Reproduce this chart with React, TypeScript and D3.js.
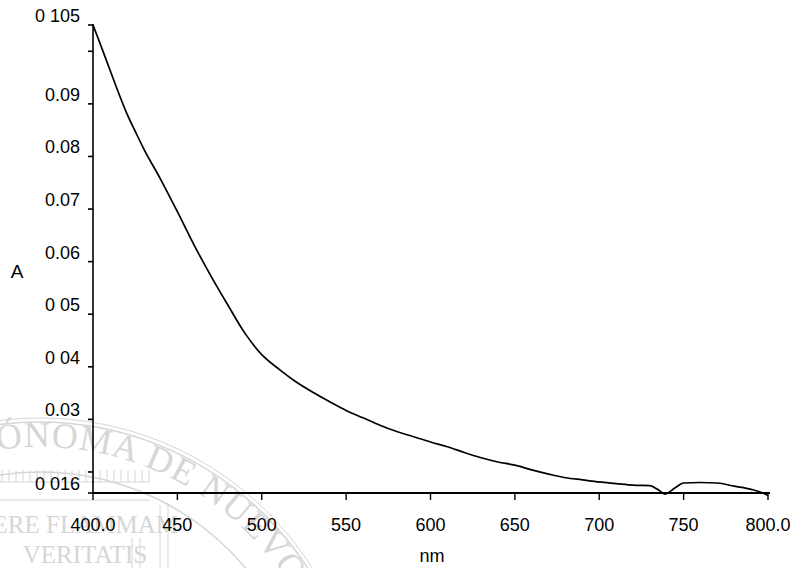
import React from "react";
import * as d3 from "d3";

const wavelengths = [400, 405, 410, 415, 420, 425, 430, 440, 450, 460, 470, 480, 490, 500, 510, 520, 530, 540, 550, 560, 570, 580, 590, 600, 610, 620, 630, 640, 650, 660, 670, 680, 690, 700, 710, 720, 730, 735, 739, 745, 750, 760, 770, 780, 790, 797, 800];
const absorbance = [0.105, 0.1008, 0.0965, 0.0922, 0.0882, 0.0848, 0.0815, 0.0757, 0.0695, 0.0631, 0.0572, 0.0517, 0.0464, 0.0423, 0.0396, 0.0372, 0.0352, 0.0334, 0.0317, 0.0303, 0.0289, 0.0277, 0.0267, 0.0257, 0.0248, 0.0237, 0.0227, 0.0219, 0.0213, 0.0204, 0.0196, 0.0189, 0.0185, 0.0181, 0.0178, 0.0175, 0.0174, 0.0166, 0.0158, 0.017, 0.0179, 0.018, 0.0179, 0.0173, 0.0167, 0.016, 0.0155];

const xTicks = [400, 450, 500, 550, 600, 650, 700, 750, 800];
const xTickLabels = ["400.0", "450", "500", "550", "600", "650", "700", "750", "800.0"];
const yTicks = [0.105, 0.1, 0.09, 0.08, 0.07, 0.06, 0.05, 0.04, 0.03, 0.02, 0.016];
const yTickLabels = ["0 105", "", "0.09", "0.08", "0.07", "0.06", "0 05", "0 04", "0.03", "", "0 016"];
const xTitle = "nm";
const yTitle = "A";

export default function App() {
  const x = d3.scaleLinear().domain([400, 800]).range([93, 768]);
  const y = d3.scaleLinear().domain([0.016, 0.105]).range([493, 25]);
  const pts = wavelengths.map((w, i) => [w, absorbance[i]] as [number, number]);
  const line = d3.line<[number, number]>().x((d) => x(d[0])).y((d) => y(d[1])).curve(d3.curveMonotoneX);

  // watermark geometry (decorative)
  const cx = 40, cy = 740, rText = 293;
  const arcPath = `M ${cx - rText} ${cy} A ${rText} ${rText} 0 0 1 ${cx + rText} ${cy}`;
  const wmColor = "#d6d6d6";
  const hatch = d3.range(2, 150, 7);

  const font = "'Liberation Sans', Arial, sans-serif";
  return (
    <svg width={794} height={568} style={{ position: "absolute", left: 0, top: 0, background: "#fff" }}>
      <defs>
        <path id="wmArc" d={arcPath} />
      </defs>
      {/* watermark */}
      <g>
        <circle cx={cx} cy={cy} r={318} fill="none" stroke={wmColor} strokeWidth={1.5} />
        <circle cx={cx} cy={cy} r={322} fill="none" stroke={wmColor} strokeWidth={1} />
        <circle cx={cx} cy={cy} r={268} fill="none" stroke={wmColor} strokeWidth={1.5} />
        <text fontFamily="'Liberation Serif', serif" fontSize={36} fill={wmColor} letterSpacing={1}>
          <textPath href="#wmArc" startOffset={417}>ÓNOMA DE NUEVO LEÓN</textPath>
        </text>
        <text fontFamily="'Liberation Serif', serif" fontSize={36} fill={wmColor} letterSpacing={1} textAnchor="end">
          <textPath href="#wmArc" startOffset={414}>UNIVERSIDAD AUT</textPath>
        </text>
        <line x1={0} y1={482} x2={150} y2={482} stroke={wmColor} strokeWidth={1} />
        <line x1={0} y1={500} x2={150} y2={500} stroke={wmColor} strokeWidth={1} />
        {hatch.map((h) => (
          <line key={h} x1={h} y1={470} x2={h} y2={482} stroke={wmColor} strokeWidth={1} />
        ))}
        <text x={178} y={533} textAnchor="end" fontFamily="'Liberation Serif', serif" fontSize={25} fill={wmColor}>ALERE FLAMMAM</text>
        <text x={85} y={563} textAnchor="middle" fontFamily="'Liberation Serif', serif" fontSize={25} fill={wmColor}>VERITATIS</text>
        <line x1={132} y1={538} x2={132} y2={568} stroke={wmColor} />
        <line x1={140} y1={538} x2={140} y2={568} stroke={wmColor} />
        <line x1={160} y1={505} x2={160} y2={568} stroke={wmColor} />
        <line x1={168} y1={505} x2={168} y2={568} stroke={wmColor} />
      </g>

      {/* axes */}
      <line x1={x(400)} y1={y(0.105) - 1} x2={x(400)} y2={y(0.016)} stroke="#000" strokeWidth={1.6} />
      <line x1={x(400)} y1={y(0.016)} x2={x(800) + 2} y2={y(0.016)} stroke="#000" strokeWidth={2.2} />
      {yTicks.map((t, i) => (
        <g key={"y" + i}>
          <line x1={x(400) - 5} x2={x(400)} y1={y(t)} y2={y(t)} stroke="#000" strokeWidth={1.6} />
          {yTickLabels[i] && (
            <text x={80} y={y(t) - 3} textAnchor="end" fontFamily={font} fontSize={18} fill="#000">
              {yTickLabels[i]}
            </text>
          )}
        </g>
      ))}
      {xTicks.map((t, i) => (
        <g key={"x" + i}>
          <line x1={x(t)} x2={x(t)} y1={y(0.016)} y2={y(0.016) + 7} stroke="#000" strokeWidth={1.4} />
          <text x={x(t)} y={531} textAnchor="middle" fontFamily={font} fontSize={18} fill="#000">
            {xTickLabels[i]}
          </text>
        </g>
      ))}
      <text x={17} y={278} textAnchor="middle" fontFamily={font} fontSize={19} fill="#000">{yTitle}</text>
      <text x={432} y={562} textAnchor="middle" fontFamily={font} fontSize={18} fill="#000">{xTitle}</text>

      {/* spectrum */}
      <path d={line(pts) || ""} fill="none" stroke="#000" strokeWidth={1.7} strokeLinejoin="round" />
    </svg>
  );
}
